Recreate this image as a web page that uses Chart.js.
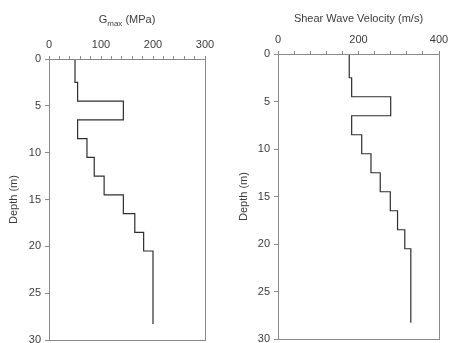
<!DOCTYPE html>
<html>
<head>
<meta charset="utf-8">
<script src="https://cdn.jsdelivr.net/npm/chart.js@4.4.1/dist/chart.umd.min.js"></script>
<style>
  html, body { margin: 0; padding: 0; background: #fff; }
  #wrap { position: relative; width: 449px; height: 343px; }
  .pane { position: absolute; top: 0; height: 343px; }
  #gPane { left: 0; width: 225px; }
  #vPane { left: 225px; width: 224px; }
</style>
</head>
<body>
<div id="wrap">
  <div class="pane" id="gPane"><canvas id="gChart"></canvas></div>
  <div class="pane" id="vPane"><canvas id="vChart"></canvas></div>
</div>
<script>
// layer boundaries (m) and values per layer
const layerDepths = [0, 2.5, 4.5, 6.5, 8.5, 10.5, 12.5, 14.5, 16.5, 18.5, 20.5, 28.3];
const gmaxValues = [50, 55, 143, 55, 73, 87, 106, 143, 165, 182, 200];
const vsValues = [177, 183, 280, 183, 208, 231, 254, 279, 297, 315, 330];
const depthTicks = [0, 5, 10, 15, 20, 25, 30];

const TEXT = "#3c3c3c";
const AXIS = "#8a8a8a";
const LINE = "#2e2e2e";
const FONT = "'Liberation Sans', Arial, sans-serif";

function profile(values) {
  const pts = [];
  values.forEach((v, i) => {
    pts.push({ x: v, y: layerDepths[i] });
    pts.push({ x: v, y: layerDepths[i + 1] });
  });
  return pts;
}

// title above the top axis, with an optional subscript part
const topTitle = {
  id: "topTitle",
  afterDraw(chart, _args, opts) {
    const ctx = chart.ctx;
    const cx = (chart.chartArea.left + chart.chartArea.right) / 2;
    const parts = opts.parts;
    ctx.save();
    ctx.fillStyle = TEXT;
    ctx.textBaseline = "alphabetic";
    let w = 0;
    parts.forEach((p) => {
      ctx.font = (p.sub ? 8 : 11) + "px " + FONT;
      w += ctx.measureText(p.text).width;
    });
    let x = cx - w / 2;
    parts.forEach((p) => {
      ctx.font = (p.sub ? 8 : 11) + "px " + FONT;
      ctx.fillText(p.text, x, opts.y + (p.sub ? 3 : 0));
      x += ctx.measureText(p.text).width;
    });
    ctx.restore();
  },
};

const frame = {
  id: "frame",
  afterDatasetsDraw(chart) {
    const a = chart.chartArea;
    const ctx = chart.ctx;
    ctx.save();
    ctx.strokeStyle = AXIS;
    ctx.lineWidth = 1;
    ctx.strokeRect(Math.round(a.left) + 0.5, Math.round(a.top) + 0.5, Math.round(a.right - a.left), Math.round(a.bottom - a.top));
    ctx.restore();
  },
};

function noOverflow(s) {
  s.paddingTop = 0;
  s.paddingBottom = 0;
  s.paddingLeft = 0;
  s.paddingRight = 0;
}

function makeChart(canvasId, cfg) {
  const el = document.getElementById(canvasId);
  return new Chart(el, {
    type: "scatter",
    data: {
      datasets: [
        {
          data: profile(cfg.values),
          showLine: true,
          borderColor: LINE,
          borderWidth: 1.2,
          pointRadius: 0,
          tension: 0,
        },
      ],
    },
    options: {
      responsive: true,
      maintainAspectRatio: false,
      animation: false,
      events: [],
      layout: { padding: { left: 0, top: 0, right: cfg.padRight, bottom: cfg.padBottom } },
      plugins: {
        legend: { display: false },
        tooltip: { enabled: false },
        topTitle: { parts: cfg.title, y: cfg.titleY },
      },
      scales: {
        x: {
          type: "linear",
          position: "top",
          min: 0,
          max: cfg.xMax,
          afterFit: (s) => { s.height = cfg.top; noOverflow(s); },
          ticks: {
            stepSize: cfg.minorStep,
            autoSkip: false,
            maxRotation: 0,
            padding: 4,
            color: TEXT,
            font: { family: FONT, size: 11 },
            callback: (v) => (v % cfg.majorStep === 0 ? String(v) : ""),
          },
          grid: { drawOnChartArea: false, tickLength: 3, color: AXIS },
          border: { color: AXIS },
        },
        y: {
          type: "linear",
          reverse: true,
          min: 0,
          max: 30,
          afterFit: (s) => { s.width = cfg.left; noOverflow(s); },
          afterBuildTicks: (s) => { s.ticks = depthTicks.map((v) => ({ value: v })); },
          title: {
            display: true,
            text: "Depth (m)",
            color: TEXT,
            font: { family: FONT, size: 11 },
            padding: { top: cfg.yTitlePad, bottom: 0 },
          },
          ticks: {
            padding: 4,
            color: TEXT,
            font: { family: FONT, size: 11 },
          },
          grid: { drawOnChartArea: false, tickLength: 4, color: AXIS },
          border: { color: AXIS },
        },
      },
    },
    plugins: [topTitle, frame],
  });
}

makeChart("gChart", {
  values: gmaxValues,
  xMax: 300,
  minorStep: 20,
  majorStep: 100,
  title: [{ text: "G" }, { text: "max", sub: true }, { text: " (MPa)" }],
  titleY: 23,
  left: 49,
  top: 59,
  padRight: 225 - 205,
  padBottom: 343 - 340,
  yTitlePad: 7,
});

makeChart("vChart", {
  values: vsValues,
  xMax: 400,
  minorStep: 40,
  majorStep: 200,
  title: [{ text: "Shear Wave Velocity (m/s)" }],
  titleY: 22,
  left: 53,
  top: 54,
  padRight: 224 - 214,
  padBottom: 343 - 339,
  yTitlePad: 12,
});
</script>
</body>
</html>
